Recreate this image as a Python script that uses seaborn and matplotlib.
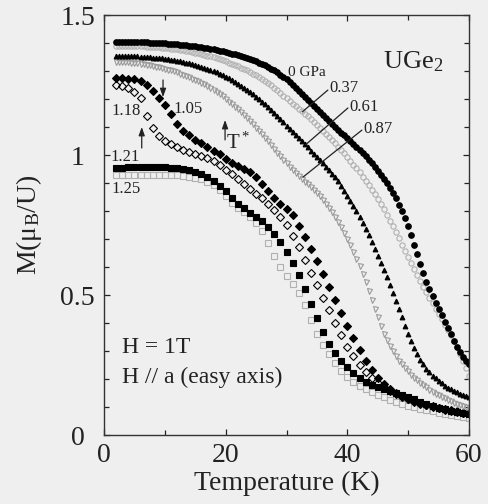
import matplotlib
matplotlib.use("Agg")
import matplotlib.pyplot as plt
import numpy as np
import seaborn as sns
from matplotlib.ticker import MultipleLocator

# Temperature grids (K): 0.5 K steps for the low-pressure runs, 1 K for the others
temperature_fine = np.arange(2.0, 60.01, 0.5)
temperature = list(range(2, 61))

# Magnetization M (mu_B/U) at H = 1 T along a
m_0gpa = [1.404, 1.404, 1.404, 1.404, 1.404, 1.404, 1.403, 1.403, 1.403, 1.402,
          1.402, 1.401, 1.401, 1.400, 1.400, 1.399, 1.399, 1.398, 1.397, 1.396,
          1.395, 1.394, 1.393, 1.392, 1.391, 1.390, 1.388, 1.387, 1.385, 1.383,
          1.381, 1.379, 1.377, 1.375, 1.373, 1.371, 1.368, 1.365, 1.362, 1.359,
          1.356, 1.353, 1.349, 1.346, 1.342, 1.338, 1.334, 1.330, 1.325, 1.320,
          1.314, 1.308, 1.302, 1.295, 1.287, 1.279, 1.270, 1.261, 1.251, 1.241,
          1.230, 1.219, 1.208, 1.197, 1.186, 1.175, 1.164, 1.153, 1.142, 1.132,
          1.121, 1.111, 1.100, 1.090, 1.080, 1.070, 1.060, 1.050, 1.040, 1.029,
          1.018, 1.007, 0.995, 0.983, 0.970, 0.957, 0.944, 0.930, 0.915, 0.900,
          0.883, 0.865, 0.845, 0.823, 0.800, 0.774, 0.745, 0.713, 0.680, 0.645,
          0.610, 0.578, 0.548, 0.521, 0.495, 0.472, 0.450, 0.427, 0.405, 0.382,
          0.360, 0.337, 0.315, 0.296, 0.280, 0.266, 0.255]
m_037gpa = [1.390, 1.390, 1.390, 1.390, 1.390, 1.390, 1.389, 1.389, 1.388, 1.388,
            1.387, 1.387, 1.386, 1.385, 1.384, 1.383, 1.382, 1.381, 1.380, 1.379,
            1.377, 1.376, 1.374, 1.372, 1.370, 1.368, 1.366, 1.364, 1.361, 1.358,
            1.355, 1.352, 1.349, 1.346, 1.342, 1.338, 1.334, 1.330, 1.326, 1.322,
            1.317, 1.312, 1.307, 1.302, 1.296, 1.290, 1.284, 1.278, 1.271, 1.264,
            1.257, 1.249, 1.241, 1.232, 1.222, 1.212, 1.202, 1.192, 1.183, 1.174,
            1.165, 1.156, 1.147, 1.138, 1.128, 1.118, 1.108, 1.098, 1.087, 1.076,
            1.065, 1.054, 1.042, 1.030, 1.018, 1.006, 0.993, 0.980, 0.966, 0.952,
            0.938, 0.923, 0.908, 0.892, 0.876, 0.859, 0.842, 0.824, 0.806, 0.786,
            0.766, 0.745, 0.724, 0.702, 0.680, 0.658, 0.636, 0.614, 0.592, 0.571,
            0.550, 0.529, 0.509, 0.489, 0.470, 0.451, 0.432, 0.413, 0.394, 0.375,
            0.356, 0.336, 0.315, 0.291, 0.265, 0.238, 0.210]
m_061gpa = [1.354, 1.354, 1.354, 1.354, 1.353, 1.353, 1.352, 1.352, 1.351, 1.351,
            1.350, 1.349, 1.348, 1.347, 1.346, 1.345, 1.343, 1.342, 1.340, 1.338,
            1.336, 1.334, 1.332, 1.330, 1.327, 1.324, 1.321, 1.318, 1.315, 1.312,
            1.308, 1.304, 1.300, 1.296, 1.291, 1.286, 1.280, 1.274, 1.268, 1.262,
            1.255, 1.248, 1.241, 1.233, 1.225, 1.217, 1.208, 1.199, 1.190, 1.181,
            1.171, 1.161, 1.150, 1.139, 1.128, 1.117, 1.105, 1.094, 1.083, 1.072,
            1.060, 1.049, 1.038, 1.027, 1.015, 1.004, 0.993, 0.982, 0.970, 0.958,
            0.946, 0.933, 0.920, 0.906, 0.890, 0.873, 0.855, 0.837, 0.818, 0.799,
            0.780, 0.758, 0.736, 0.713, 0.690, 0.666, 0.641, 0.616, 0.590, 0.563,
            0.535, 0.507, 0.478, 0.449, 0.420, 0.391, 0.362, 0.335, 0.310, 0.288,
            0.268, 0.252, 0.237, 0.224, 0.212, 0.202, 0.192, 0.184, 0.176, 0.169,
            0.163, 0.157, 0.152, 0.147, 0.142, 0.138, 0.134]
m_087gpa = [1.332, 1.332, 1.332, 1.332, 1.331, 1.330, 1.329, 1.328, 1.326, 1.324,
            1.322, 1.320, 1.318, 1.316, 1.313, 1.311, 1.308, 1.305, 1.302, 1.299,
            1.295, 1.291, 1.287, 1.283, 1.278, 1.273, 1.268, 1.263, 1.258, 1.252,
            1.246, 1.239, 1.232, 1.225, 1.217, 1.209, 1.200, 1.191, 1.182, 1.173,
            1.163, 1.153, 1.142, 1.131, 1.120, 1.109, 1.098, 1.087, 1.075, 1.062,
            1.049, 1.035, 1.021, 1.008, 0.995, 0.982, 0.970, 0.958, 0.947, 0.936,
            0.925, 0.915, 0.905, 0.895, 0.885, 0.874, 0.863, 0.852, 0.840, 0.826,
            0.812, 0.796, 0.780, 0.762, 0.743, 0.722, 0.700, 0.677, 0.654, 0.630,
            0.605, 0.576, 0.545, 0.514, 0.482, 0.451, 0.420, 0.390, 0.362, 0.339,
            0.318, 0.299, 0.282, 0.266, 0.252, 0.239, 0.227, 0.216, 0.205, 0.196,
            0.187, 0.178, 0.170, 0.162, 0.155, 0.148, 0.142, 0.136, 0.131, 0.126,
            0.121, 0.116, 0.112, 0.107, 0.103, 0.099, 0.096]
m_105gpa = [1.275, 1.275, 1.273, 1.270, 1.263, 1.250, 1.228, 1.203, 1.178, 1.148,
            1.112, 1.087, 1.070, 1.055, 1.042, 1.030, 1.016, 1.002, 0.987, 0.973,
            0.961, 0.950, 0.938, 0.920, 0.896, 0.871, 0.847, 0.826, 0.806, 0.784,
            0.746, 0.706, 0.665, 0.621, 0.576, 0.530, 0.482, 0.436, 0.390, 0.346,
            0.305, 0.266, 0.233, 0.205, 0.183, 0.165, 0.151, 0.139, 0.129, 0.121,
            0.114, 0.108, 0.102, 0.097, 0.092, 0.088, 0.084, 0.080, 0.077]
m_118gpa = [1.250, 1.248, 1.240, 1.225, 1.202, 1.140, 1.095, 1.068, 1.050, 1.038,
            1.028, 1.019, 1.011, 1.004, 0.997, 0.989, 0.978, 0.964, 0.948, 0.931,
            0.913, 0.896, 0.879, 0.862, 0.845, 0.826, 0.805, 0.780, 0.750, 0.712,
            0.670, 0.625, 0.580, 0.535, 0.490, 0.445, 0.400, 0.356, 0.316, 0.281,
            0.251, 0.226, 0.204, 0.186, 0.170, 0.157, 0.146, 0.136, 0.127, 0.119,
            0.112, 0.106, 0.100, 0.095, 0.091, 0.087, 0.083, 0.080, 0.077]
m_121gpa = [0.954, 0.955, 0.956, 0.957, 0.958, 0.958, 0.958, 0.957, 0.956, 0.954,
            0.952, 0.949, 0.945, 0.939, 0.931, 0.920, 0.906, 0.890, 0.870, 0.848,
            0.826, 0.809, 0.794, 0.779, 0.763, 0.744, 0.718, 0.688, 0.655, 0.616,
            0.570, 0.521, 0.468, 0.418, 0.369, 0.326, 0.292, 0.264, 0.242, 0.222,
            0.205, 0.191, 0.180, 0.171, 0.163, 0.156, 0.149, 0.142, 0.135, 0.127,
            0.119, 0.111, 0.104, 0.098, 0.092, 0.087, 0.082, 0.078, 0.074]
m_125gpa = [0.929, 0.929, 0.929, 0.929, 0.929, 0.929, 0.929, 0.929, 0.929, 0.929,
            0.928, 0.926, 0.923, 0.919, 0.913, 0.904, 0.892, 0.875, 0.852, 0.830,
            0.812, 0.797, 0.780, 0.758, 0.728, 0.686, 0.641, 0.601, 0.568, 0.540,
            0.508, 0.463, 0.410, 0.362, 0.320, 0.289, 0.256, 0.229, 0.208, 0.190,
            0.175, 0.163, 0.152, 0.143, 0.134, 0.126, 0.119, 0.112, 0.105, 0.099,
            0.093, 0.088, 0.084, 0.079, 0.075, 0.071, 0.067, 0.064, 0.061]

x_ticks = [0, 20, 40, 60]
y_ticks = [0, 0.5, 1, 1.5]
y_tick_labels = ["0", "0.5", "1", "1.5"]

sns.set_style("ticks")
plt.rcParams["font.family"] = ["Liberation Serif", "DejaVu Serif"]
plt.rcParams["mathtext.fontset"] = "stix"
plt.rcParams["mathtext.default"] = "regular"

BG = "#efefef"
INK = "#222222"
fig = plt.figure(figsize=(4.89, 5.04), dpi=100, facecolor=BG)
ax = fig.add_axes([0.2127, 0.1369, 0.7464, 0.8333], facecolor=BG)

gray = "#9a9a9a"
light = "#b0b0b0"
# (temperatures, values, marker, colour, filled, marker size)
styles = [
    (temperature, m_125gpa, "s", light, False, 4.0),
    (temperature, m_121gpa, "s", "black", True, 3.8),
    (temperature, m_118gpa, "D", "black", False, 4.2),
    (temperature, m_105gpa, "D", "black", True, 3.8),
    (temperature_fine, m_087gpa, "v", gray, False, 3.6),
    (temperature_fine, m_061gpa, "^", "black", True, 3.4),
    (temperature_fine, m_037gpa, "o", light, False, 3.8),
    (temperature_fine, m_0gpa, "o", "black", True, 4.0),
]
for temps, vals, mk, col, filled, ms in styles:
    sns.lineplot(x=temps, y=vals, ax=ax, estimator=None, sort=False,
                 marker=mk, linestyle="", color=col,
                 markerfacecolor=col if filled else "none",
                 markeredgecolor=col, markersize=ms, markeredgewidth=0.8)

ax.set_xlim(0, 60)
ax.set_ylim(0, 1.5)
ax.set_xticks(x_ticks)
ax.set_xticklabels([str(t) for t in x_ticks])
ax.set_yticks(y_ticks)
ax.set_yticklabels(y_tick_labels, ha="center")
ax.xaxis.set_minor_locator(MultipleLocator(10))
ax.yaxis.set_minor_locator(MultipleLocator(0.1))
ax.tick_params(which="both", direction="in", top=True, right=True,
               labelsize=20, colors=INK)
ax.tick_params(which="major", length=4.5, width=0.9)
ax.tick_params(which="minor", length=3.5, width=0.9)
ax.tick_params(axis="y", pad=19)
ax.tick_params(axis="x", pad=6)
for sp in ax.spines.values():
    sp.set_linewidth(1.0)
    sp.set_color("#333333")

ax.set_xlabel("Temperature (K)", fontsize=20, labelpad=2, color=INK)
ax.set_ylabel("M(μ$_\\mathregular{B}$/U)", fontsize=20, labelpad=12, color=INK)

txt = dict(color=INK)
ax.text(55.8, 1.335, "UGe$_2$", fontsize=19, ha="right", va="center", **txt)
ax.text(33.4, 1.296, "0 GPa", fontsize=11, ha="center", va="center", **txt)
ax.text(37.0, 1.239, "0.37", fontsize=12, ha="left", va="center", **txt)
ax.text(40.3, 1.171, "0.61", fontsize=12, ha="left", va="center", **txt)
ax.text(42.7, 1.093, "0.87", fontsize=12, ha="left", va="center", **txt)
ax.plot([36.8, 32.6], [1.232, 1.154], color=INK, lw=0.9)
ax.plot([40.1, 33.1], [1.168, 1.036], color=INK, lw=0.9)
ax.plot([42.4, 32.7], [1.089, 0.921], color=INK, lw=0.9)

ax.text(3.6, 1.157, "1.18", fontsize=12, ha="center", va="center", **txt)
ax.text(13.8, 1.164, "1.05", fontsize=12, ha="center", va="center", **txt)
ax.text(3.5, 0.993, "1.21", fontsize=12, ha="center", va="center", **txt)
ax.text(3.6, 0.879, "1.25", fontsize=12, ha="center", va="center", **txt)
ax.text(22.0, 1.043, "T$^*$", fontsize=15, ha="center", va="center", **txt)

arrow = dict(arrowstyle="-|>,head_length=0.5,head_width=0.18", color=INK,
             lw=0.9, shrinkA=0, shrinkB=0)
ax.annotate("", xy=(9.7, 1.207), xytext=(9.7, 1.268), arrowprops=arrow)
ax.annotate("", xy=(6.2, 1.100), xytext=(6.2, 1.025), arrowprops=arrow)
ax.annotate("", xy=(19.9, 1.125), xytext=(19.9, 1.054), arrowprops=arrow)

ax.text(3.0, 0.314, "H = 1T", fontsize=17, ha="left", va="center", **txt)
ax.text(3.0, 0.204, "H // a (easy axis)", fontsize=17, ha="left", va="center", **txt)

fig.savefig("out.png", dpi=100, facecolor=BG)
